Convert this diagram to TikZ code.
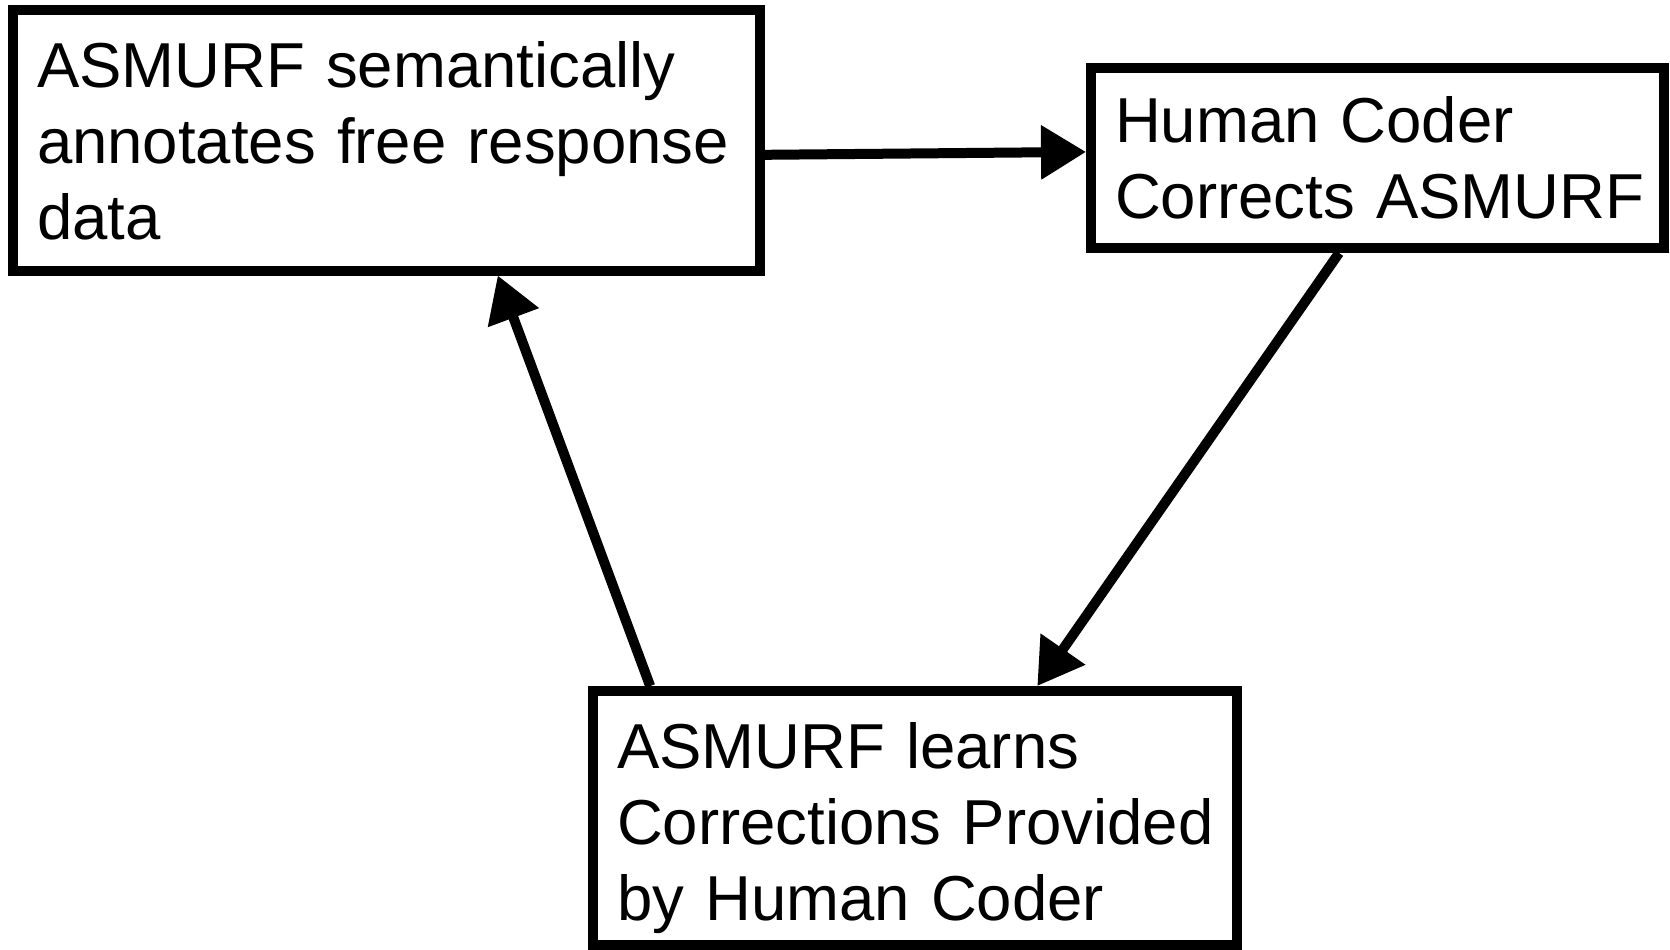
\documentclass[tikz,border=0pt]{standalone}
\usepackage{fontspec}
\setmainfont{Liberation Sans}
\usetikzlibrary{arrows.meta,calc}

\tikzset{every picture/.style={line width=10pt}}

\begin{document}
\begin{tikzpicture}[x=1pt,y=1pt,yscale=-1,xscale=1,
  stepbox/.style={draw, line width=10pt, rectangle, align=left, inner xsep=24pt, inner ysep=0pt, font=\fontsize{63.5pt}{76pt}\selectfont},
  flow/.style={line width=10pt, -{Triangle[length=45pt,width=52pt]}}]
%set diagram left start at 0, and has height of 950
\useasboundingbox (0,0) rectangle (1670,950);

% Text Node
\node [stepbox, minimum width=747pt, minimum height=260pt, text width=699pt] (annotate) at (386.5,140.5) {\mbox{ASMURF semantically}\\\mbox{annotates free response}\\data};
% Text Node
\node [stepbox, minimum width=573pt, minimum height=180pt, text width=525pt] (coder) at (1377.5,158) {\mbox{Human Coder}\\\mbox{Corrects ASMURF}};
% Text Node
\node [stepbox, minimum width=644pt, minimum height=254pt, text width=596pt] (learn) at (915,818) {\rule{0pt}{66pt}\mbox{ASMURF learns}\\\mbox{Corrections Provided}\\\mbox{by Human Coder}};

%Straight Lines
\draw [flow] ($(annotate.north east)!0.553!(annotate.south east)$) -- ($(coder.north west)!0.468!(coder.south west)$);
%Straight Lines
\draw [flow] ($(coder.south west)!0.434!(coder.south east)$) -- ($(learn.north west)!0.687!(learn.north east)$);
%Straight Lines
\draw [flow] ($(learn.north west)!0.095!(learn.north east)$) -- ($(annotate.south west)!0.647!(annotate.south east)$);

\end{tikzpicture}
\end{document}
